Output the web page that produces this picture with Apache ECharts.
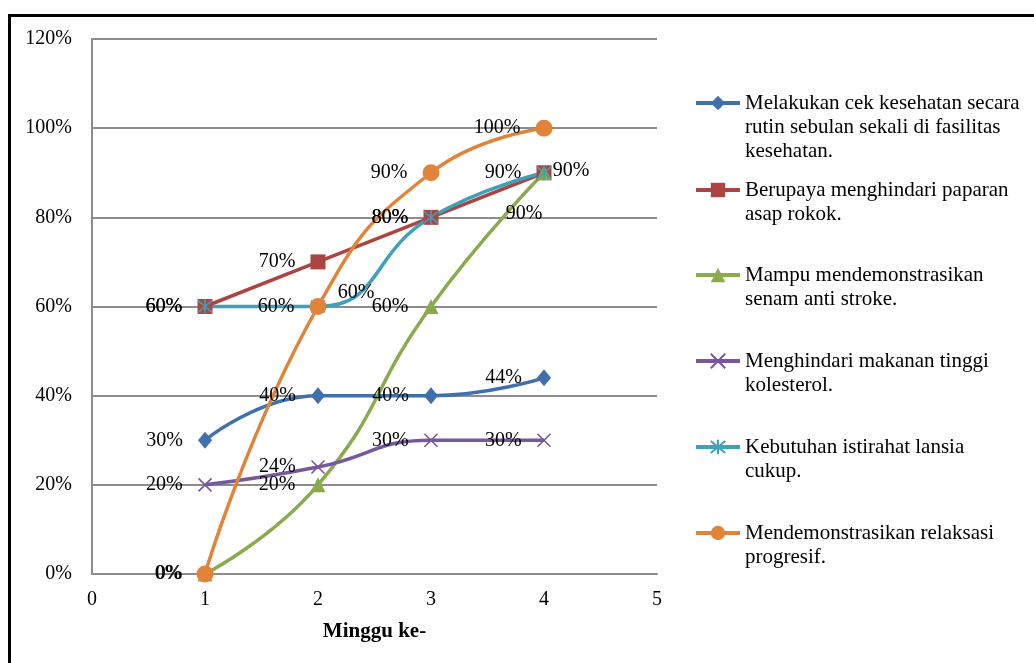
<!DOCTYPE html>
<html>
<head>
<meta charset="utf-8">
<script src="https://cdn.jsdelivr.net/npm/echarts@6/dist/echarts.min.js"></script>
<style>
  html, body { margin: 0; padding: 0; background: #fff; }
  #chart { width: 1034px; height: 663px; }
</style>
</head>
<body>
<div id="chart"></div>
<script>
// data (percent)
var weeks = [1, 2, 3, 4];
var seriesNames = [
  'Melakukan cek kesehatan secara rutin sebulan sekali di fasilitas kesehatan.',
  'Berupaya menghindari paparan asap rokok.',
  'Mampu mendemonstrasikan senam anti stroke.',
  'Menghindari makanan tinggi kolesterol.',
  'Kebutuhan istirahat lansia cukup.',
  'Mendemonstrasikan relaksasi progresif.'
];
var legendLines = [
  ['Melakukan cek kesehatan secara', 'rutin sebulan sekali di fasilitas', 'kesehatan.'],
  ['Berupaya menghindari paparan', 'asap rokok.'],
  ['Mampu mendemonstrasikan', 'senam anti stroke.'],
  ['Menghindari makanan tinggi', 'kolesterol.'],
  ['Kebutuhan istirahat lansia', 'cukup.'],
  ['Mendemonstrasikan relaksasi', 'progresif.']
];
var cekKesehatan = [30, 40, 40, 44];
var hindariRokok = [60, 70, 80, 90];
var senamStroke = [0, 20, 60, 90];
var hindariKolesterol = [20, 24, 30, 30];
var istirahatCukup = [60, 60, 80, 90];
var relaksasi = [0, 60, 90, 100];
var yMin = 0, yMax = 120, yStep = 20;
var xMin = 0, xMax = 5;

var FONT = '"Liberation Serif", "Times New Roman", serif';
var colors = ['#4070AC', '#AA4542', '#8BAA4C', '#77589A', '#3FA0BA', '#E0843A'];
var values = [cekKesehatan, hindariRokok, senamStroke, hindariKolesterol, istirahatCukup, relaksasi];
var symbols = [
  'diamond', 'rect', 'triangle',
  'path://M0,0L10,10M10,0L0,10',
  'path://M0,0L10,10M10,0L0,10M5,-1L5,11',
  'circle'
];
var symbolSizes = [[14, 17], 15, 15, 13, 14, 17];
// a few labels that sit off to the side
var labelTweaks = {
  '2-3': { position: 'left', offset: [21, 41] },
  '4-1': { position: 'right', offset: [-3, -14] },
  '4-3': { position: 'right', offset: [-14, -2] }
};

var series = values.map(function (vals, s) {
  var isStroke = s === 3 || s === 4;
  return {
    name: seriesNames[s],
    type: 'line',
    smooth: 0.5,
    symbol: symbols[s],
    symbolSize: symbolSizes[s],
    showAllSymbol: true,
    lineStyle: { color: colors[s], width: 3.5 },
    itemStyle: isStroke
      ? { color: colors[s], borderColor: colors[s], borderWidth: 1.6 }
      : { color: colors[s] },
    label: {
      show: true,
      position: 'left',
      distance: 15,
      color: '#000',
      fontFamily: FONT,
      fontSize: 20,
      formatter: function (p) { return p.value[1] + '%'; }
    },
    emphasis: { disabled: true },
    data: vals.map(function (v, i) {
      var item = { value: [weeks[i], v] };
      var t = labelTweaks[s + '-' + i];
      if (t) item.label = t;
      return item;
    })
  };
});

// legend text is centred on its icon, so blank lines are put in front
// to bring the first line level with the icon
var lh = 24;
var iconCenters = [103, 190, 275, 361, 447, 533];
var legends = seriesNames.map(function (name, s) {
  var n = legendLines[s].length;
  var blank = new Array(n).join('\n');
  return {
    data: [name],
    left: 694,
    top: iconCenters[s] - (2 * n - 1) * lh / 2,
    padding: 0,
    itemWidth: 44,
    itemHeight: 18,
    itemGap: 4,
    selectedMode: false,
    lineStyle: { width: 4 },
    formatter: function () { return blank + legendLines[s].join('\n'); },
    textStyle: {
      fontFamily: FONT,
      fontSize: 21,
      color: '#000',
      lineHeight: lh
    }
  };
});

var chart = echarts.init(document.getElementById('chart'));
chart.setOption({
  animation: false,
  backgroundColor: '#fff',
  textStyle: { fontFamily: FONT },
  grid: { left: 92, right: 377, top: 39, bottom: 89 },
  legend: legends,
  xAxis: {
    type: 'value',
    min: xMin,
    max: xMax,
    interval: 1,
    name: 'Minggu ke-',
    nameLocation: 'middle',
    nameGap: 47,
    nameTextStyle: { fontFamily: FONT, fontSize: 21, fontWeight: 'bold', color: '#000' },
    axisLine: { show: true, onZero: false, lineStyle: { color: '#8C8C8C', width: 2 } },
    axisTick: { show: false },
    axisLabel: { fontFamily: FONT, fontSize: 20, color: '#000', margin: 16 },
    splitLine: { show: false }
  },
  yAxis: {
    type: 'value',
    min: yMin,
    max: yMax,
    interval: yStep,
    axisLine: { show: true, lineStyle: { color: '#8C8C8C', width: 2 } },
    axisTick: { show: false },
    axisLabel: { fontFamily: FONT, fontSize: 20, color: '#000', margin: 20, formatter: '{value}%' },
    splitLine: { show: true, lineStyle: { color: '#8C8C8C', width: 2 } }
  },
  graphic: [{
    type: 'rect',
    shape: { x: 9.5, y: 15.5, width: 1200, height: 800 },
    style: { fill: 'none', stroke: '#000', lineWidth: 3 },
    silent: true,
    z: 100
  }],
  series: series
});
</script>
</body>
</html>
